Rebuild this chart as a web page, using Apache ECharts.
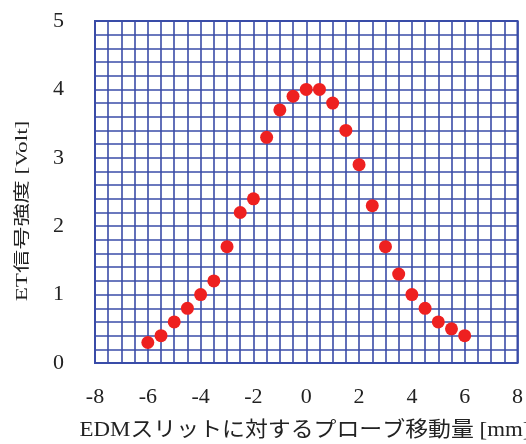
<!DOCTYPE html>
<html>
<head>
<meta charset="utf-8">
<script src="https://cdn.jsdelivr.net/npm/echarts@6/dist/echarts.min.js"></script>
<style>html,body{margin:0;padding:0;background:#fff}#c{width:526px;height:444px}</style>
</head>
<body>
<div id="c"></div>
<script>
const positions = [-6,-5.5,-5,-4.5,-4,-3.5,-3,-2.5,-2,-1.5,-1,-0.5,0,0.5,1,1.5,2,2.5,3,3.5,4,4.5,5,5.5,6];
const signal = [0.3,0.4,0.6,0.8,1.0,1.2,1.7,2.2,2.4,3.3,3.7,3.9,4.0,4.0,3.8,3.4,2.9,2.3,1.7,1.3,1.0,0.8,0.6,0.5,0.4];
const xTitle = 'EDMスリットに対するプローブ移動量 [mm]';
const yTitle = 'ET信号強度 [Volt]';

const font = "'Liberation Serif','Noto Sans CJK JP',serif";
const gridColor = '#3a4ca8';
const chart = echarts.init(document.getElementById('c'));
chart.setOption({
  animation: false,
  backgroundColor: '#fff',
  grid: {left: 95, right: 8, top: 21, bottom: 81, show: true, borderColor: gridColor, borderWidth: 2, backgroundColor: 'transparent'},
  xAxis: {
    type: 'value', min: -8, max: 8, interval: 2,
    axisLine: {show: false}, axisTick: {show: false},
    axisLabel: {margin: 23, fontFamily: font, fontSize: 22, color: '#222'},
    splitLine: {show: true, lineStyle: {color: gridColor, width: 1.6}},
    minorTick: {show: false, splitNumber: 4},
    minorSplitLine: {show: true, lineStyle: {color: gridColor, width: 1.6}}
  },
  yAxis: {
    type: 'value', min: 0, max: 5, interval: 1,
    axisLine: {show: false}, axisTick: {show: false},
    axisLabel: {margin: 31, fontFamily: font, fontSize: 22, color: '#222'},
    splitLine: {show: true, lineStyle: {color: gridColor, width: 1.6}},
    minorTick: {show: false, splitNumber: 5},
    minorSplitLine: {show: true, lineStyle: {color: gridColor, width: 1.6}}
  },
  graphic: [
    {type: 'text', x: 305, y: 430, scaleX: 1.09,
     style: {text: xTitle, font: "21px " + font, fill: '#222', textAlign: 'center', textVerticalAlign: 'middle'}},
    {type: 'text', x: 23, y: 211, rotation: Math.PI / 2, scaleX: 1.45,
     style: {text: yTitle, font: "16px " + font, fill: '#222', textAlign: 'center', textVerticalAlign: 'middle'}}
  ],
  series: [{
    type: 'scatter',
    data: positions.map((x, i) => [x, signal[i]]),
    symbolSize: 13,
    itemStyle: {color: '#ee2020', opacity: 1}
  }]
});
</script>
</body>
</html>
